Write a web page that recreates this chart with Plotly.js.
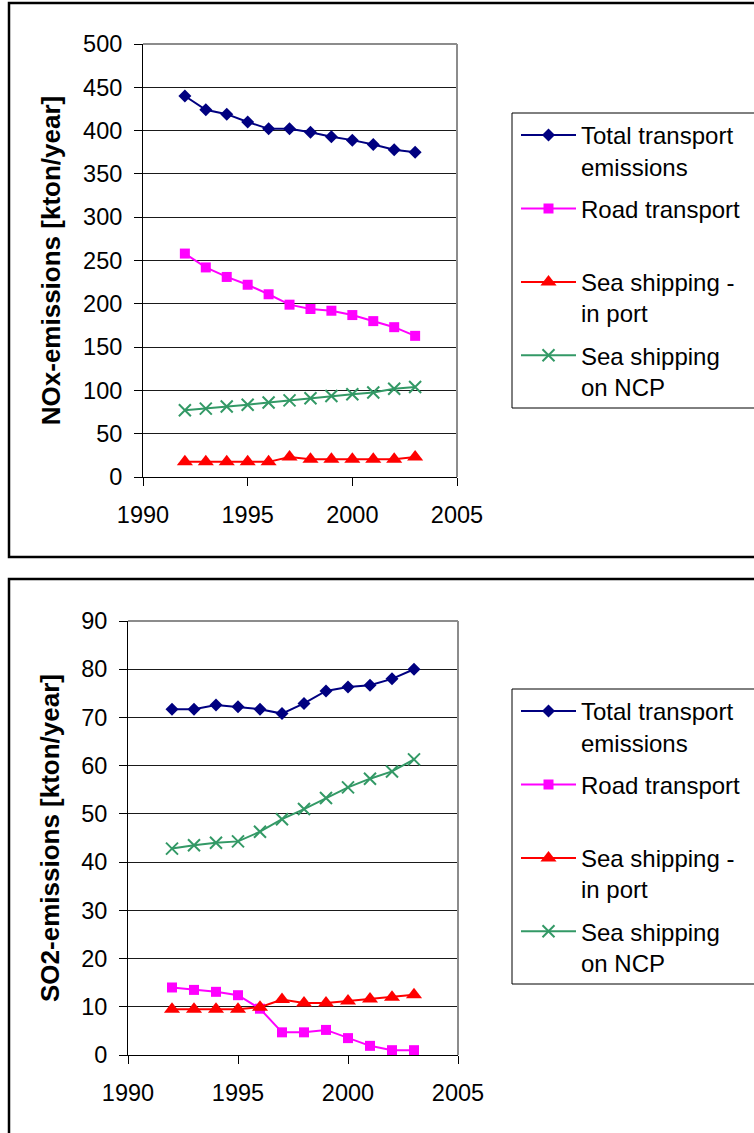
<!DOCTYPE html>
<html>
<head>
<meta charset="utf-8">
<script src="https://cdn.plot.ly/plotly-3.0.1.min.js"></script>
<style>
  html, body { margin: 0; padding: 0; background: #ffffff; }
  #chart { width: 754px; height: 1133px; }
</style>
</head>
<body>
<div id="chart"></div>
<script>
// Years covered by both emission inventories
const years = [1992, 1993, 1994, 1995, 1996, 1997, 1998, 1999, 2000, 2001, 2002, 2003];

// Legend labels (two text lines per entry)
const seriesNames = [
  'Total transport<br>emissions',
  'Road transport<br>&nbsp;',
  'Sea shipping -<br>in port',
  'Sea shipping<br>on NCP'
];

// NOx emissions, kton/year
const noxTotal = [440, 424, 419, 410, 402, 402, 398, 393, 389, 384, 378, 375];
const noxRoad  = [258, 242, 231, 222, 211, 199, 194, 192, 187, 180, 173, 163];
const noxPort  = [17.5, 17.5, 17.5, 17.5, 17.5, 23, 20.5, 20.5, 20.5, 20.5, 20.5, 23];
const noxNcp   = [77, 79, 81.5, 83.5, 86, 88.5, 91, 93.5, 95.5, 97.5, 102, 104];

// SO2 emissions, kton/year
const so2Total = [71.7, 71.7, 72.6, 72.2, 71.7, 70.8, 72.9, 75.5, 76.3, 76.7, 78, 80];
const so2Road  = [14, 13.5, 13.1, 12.4, 9.6, 4.7, 4.7, 5.2, 3.5, 1.9, 1.0, 1.0];
const so2Port  = [9.5, 9.5, 9.5, 9.5, 9.9, 11.5, 10.8, 10.8, 11.2, 11.6, 12, 12.5];
const so2Ncp   = [42.8, 43.5, 44, 44.3, 46.3, 48.9, 51, 53.3, 55.5, 57.3, 58.8, 61.3];

// Axis titles
const noxTitle = 'NOx-emissions [kton/year]';
const so2Title = 'SO2-emissions [kton/year]';

// ---- page geometry (pixels) ----
const W = 754, H = 1133;
const px = v => v / W;
const py = v => 1 - v / H;

const FONT = '"Liberation Sans", Arial, Helvetica, sans-serif';

// Per-series styling: colour and marker
const styles = [
  { color: '#000080', symbol: 'diamond', size: 10 },
  { color: '#FF00FF', symbol: 'square', size: 10 },
  { color: '#FF0000', symbol: 'triangle-up', size: 14 },
  { color: '#339966', symbol: 'x-thin', size: 12 }
];

function makeTraces(seriesList, xa, ya, legendId) {
  return seriesList.map((vals, i) => {
    const st = styles[i];
    const marker = { symbol: st.symbol, size: st.size, color: st.color };
    if (st.symbol === 'x-thin') {
      marker.line = { color: st.color, width: 2 };
    }
    return {
      type: 'scatter',
      mode: 'lines+markers',
      x: years,
      y: vals,
      xaxis: xa,
      yaxis: ya,
      name: seriesNames[i],
      legend: legendId,
      legendgroup: legendId + '-' + i,
      line: { color: st.color, width: 2 },
      marker: marker,
      hoverinfo: 'skip'
    };
  });
}

const traces = [
  ...makeTraces([noxTotal, noxRoad, noxPort, noxNcp], 'x', 'y', 'legend'),
  ...makeTraces([so2Total, so2Road, so2Port, so2Ncp], 'x2', 'y2', 'legend2')
];

function xAxis(domainPx, anchor) {
  return {
    domain: [px(domainPx[0]), px(domainPx[1])],
    anchor: anchor,
    range: [1990, 2005],
    tick0: 1990,
    dtick: 5,
    ticks: 'outside',
    ticklen: 8,
    tickwidth: 1,
    tickcolor: '#000',
    ticklabelstandoff: 9,
    showline: true,
    linecolor: '#000',
    linewidth: 1,
    showgrid: false,
    zeroline: false,
    tickfont: { size: 23.5, color: '#000' },
    fixedrange: true
  };
}

function yAxis(domainPx, anchor, maxVal, step, title) {
  return {
    domain: [py(domainPx[1]), py(domainPx[0])],
    anchor: anchor,
    range: [0, maxVal],
    tick0: 0,
    dtick: step,
    ticks: 'outside',
    ticklen: 8,
    tickwidth: 1,
    tickcolor: '#000',
    ticklabelstandoff: 7,
    showline: true,
    linecolor: '#000',
    linewidth: 1,
    showgrid: true,
    gridcolor: '#1a1a1a',
    gridwidth: 1,
    zeroline: false,
    tickfont: { size: 23.5, color: '#000' },
    title: { text: title, font: { size: 26, weight: 'bold', color: '#000' }, standoff: 14 },
    fixedrange: true
  };
}

function legendBox(topPx) {
  return {
    x: px(516),
    y: py(topPx),
    xanchor: 'left',
    yanchor: 'top',
    bgcolor: 'rgba(0,0,0,0)',
    borderwidth: 0,
    font: { family: FONT, size: 24, color: '#000' },
    itemwidth: 55,
    valign: 'top',
    traceorder: 'grouped',
    tracegroupgap: 8,
    itemclick: false,
    itemdoubleclick: false
  };
}

// Plot areas: [left, right] and [top, bottom] in pixels
const noxArea = { x: [143, 457], y: [44, 477] };
const so2Area = { x: [128, 458], y: [621, 1055] };

function greyEdges(area) {
  const ln = { color: '#8c8c8c', width: 2 };
  return [
    { type: 'line', xref: 'paper', yref: 'paper', x0: px(area.x[0]), x1: px(area.x[1]),
      y0: py(area.y[0]), y1: py(area.y[0]), line: ln },
    { type: 'line', xref: 'paper', yref: 'paper', x0: px(area.x[1]), x1: px(area.x[1]),
      y0: py(area.y[0]), y1: py(area.y[1]), line: ln }
  ];
}

const shapes = [
  // outer panel frames
  { type: 'rect', xref: 'paper', yref: 'paper', x0: px(9), x1: px(820), y0: py(557), y1: py(3),
    line: { color: '#000', width: 2.5 }, fillcolor: 'rgba(0,0,0,0)' },
  { type: 'rect', xref: 'paper', yref: 'paper', x0: px(9), x1: px(820), y0: py(1200), y1: py(579),
    line: { color: '#000', width: 2.5 }, fillcolor: 'rgba(0,0,0,0)' },
  // legend frames
  { type: 'rect', xref: 'paper', yref: 'paper', x0: px(512), x1: px(820), y0: py(408), y1: py(113),
    line: { color: '#000', width: 1 }, fillcolor: 'rgba(0,0,0,0)' },
  { type: 'rect', xref: 'paper', yref: 'paper', x0: px(512), x1: px(820), y0: py(984), y1: py(689),
    line: { color: '#000', width: 1 }, fillcolor: 'rgba(0,0,0,0)' },
  ...greyEdges(noxArea),
  ...greyEdges(so2Area)
];

const layout = {
  width: W,
  height: H,
  margin: { l: 0, r: 0, t: 0, b: 0 },
  paper_bgcolor: '#ffffff',
  plot_bgcolor: 'rgba(0,0,0,0)',
  font: { family: FONT, size: 23, color: '#000' },
  showlegend: true,
  xaxis: xAxis(noxArea.x, 'y'),
  yaxis: yAxis(noxArea.y, 'x', 500, 50, noxTitle),
  xaxis2: xAxis(so2Area.x, 'y2'),
  yaxis2: yAxis(so2Area.y, 'x2', 90, 10, so2Title),
  legend: legendBox(113),
  legend2: legendBox(689),
  shapes: shapes
};

Plotly.newPlot('chart', traces, layout, { staticPlot: true, displayModeBar: false });
</script>
</body>
</html>
